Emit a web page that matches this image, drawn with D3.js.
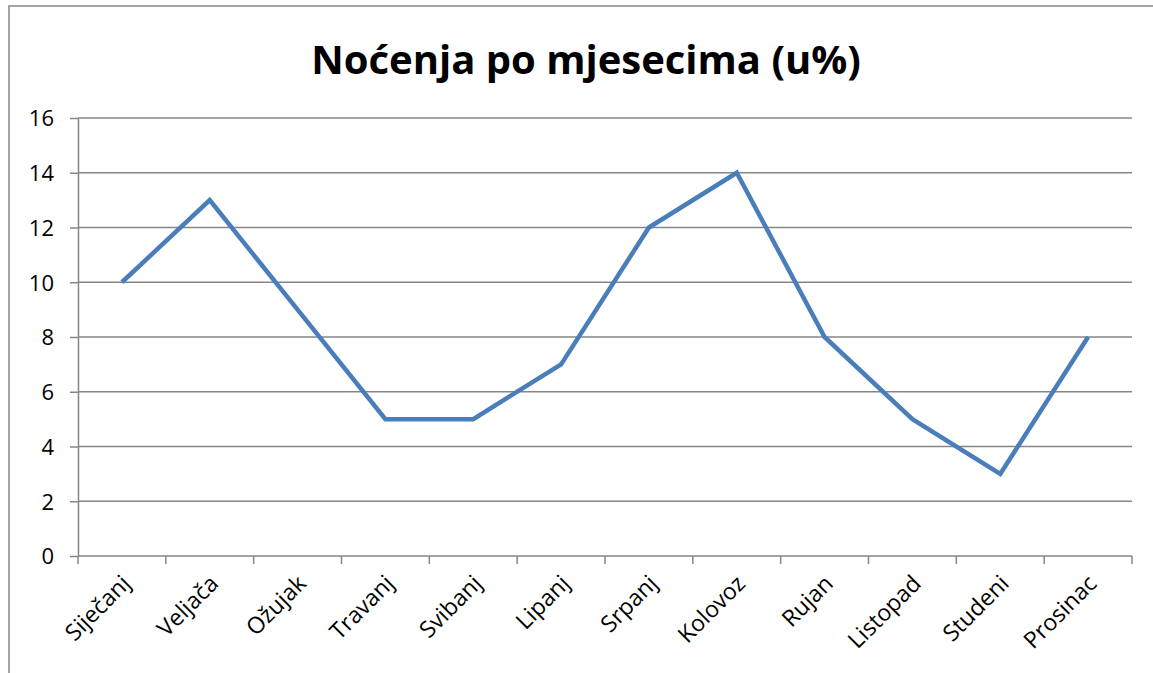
<!DOCTYPE html>
<meta charset="utf-8">
<style>
body { margin: 0; background: #fff; }
svg { font-family: "Open Sans", sans-serif; }
.grid line { stroke: #868686; stroke-width: 1.5; }
.axis path, .axis line { stroke: #868686; stroke-width: 1.5; }
.axis text { font-family: "Open Sans", sans-serif; font-size: 22px; fill: #000; }
.xlab text { font-size: 23px; }
</style>
<svg width="1153" height="673"></svg>
<script src="https://d3js.org/d3.v7.min.js"></script>
<script>

var months = ["Siječanj", "Veljača", "Ožujak", "Travanj", "Svibanj", "Lipanj",
              "Srpanj", "Kolovoz", "Rujan", "Listopad", "Studeni", "Prosinac"];
var nocenja = [10, 13, 9, 5, 5, 7, 12, 14, 8, 5, 3, 8];
var yTicks = [0, 2, 4, 6, 8, 10, 12, 14, 16];

var svg = d3.select("svg"),
    margin = {top: 118, right: 21, bottom: 117, left: 78},
    width = +svg.attr("width") - margin.left - margin.right,
    height = +svg.attr("height") - margin.top - margin.bottom;

// outer frame of the chart area
svg.append("rect")
    .attr("x", 9).attr("y", 6)
    .attr("width", 1160).attr("height", 680)
    .attr("fill", "none")
    .attr("stroke", "#868686")
    .attr("stroke-width", 1.5);

svg.append("text")
    .attr("x", 586)
    .attr("y", 74)
    .attr("text-anchor", "middle")
    .attr("font-size", 40)
    .attr("font-weight", "bold")
    .text("Noćenja po mjesecima (u%)");

var g = svg.append("g")
    .attr("transform", "translate(" + margin.left + "," + margin.top + ")");

var x = d3.scaleBand().domain(months).range([0, width]);
var y = d3.scaleLinear().domain([0, 16]).range([height, 0]);

g.append("g")
    .attr("class", "grid")
  .selectAll("line")
  .data(yTicks.slice(1))
  .enter().append("line")
    .attr("x1", 0)
    .attr("x2", width)
    .attr("y1", function(d) { return y(d); })
    .attr("y2", function(d) { return y(d); });

var yAxis = g.append("g")
    .attr("class", "axis")
    .call(d3.axisLeft(y).tickValues(yTicks).tickSize(8).tickPadding(16).tickSizeOuter(0));
yAxis.selectAll("text").attr("dy", "0.36em");

// x axis: ticks at band edges
var xAxis = g.append("g")
    .attr("class", "axis xlab")
    .attr("transform", "translate(0," + height + ")");
xAxis.append("line")
    .attr("x1", 0).attr("x2", width);
xAxis.selectAll(".edge")
  .data(months.concat(["end"]))
  .enter().append("line")
    .attr("class", "edge")
    .attr("x1", function(d, i) { return i * x.step(); })
    .attr("x2", function(d, i) { return i * x.step(); })
    .attr("y1", 0).attr("y2", 8);
xAxis.selectAll("text")
  .data(months)
  .enter().append("text")
    .attr("text-anchor", "end")
    .attr("transform", function(d) {
      return "translate(" + (x(d) + x.bandwidth() / 2 + 10) + ",29) rotate(-45)";
    })
    .text(function(d) { return d; });

var line = d3.line()
    .x(function(d, i) { return x(months[i]) + x.bandwidth() / 2; })
    .y(function(d) { return y(d); });

g.append("path")
    .datum(nocenja)
    .attr("fill", "none")
    .attr("stroke", "#4a7ebb")
    .attr("stroke-width", 4.5)
    .attr("stroke-linejoin", "miter")
    .attr("d", line);

</script>
